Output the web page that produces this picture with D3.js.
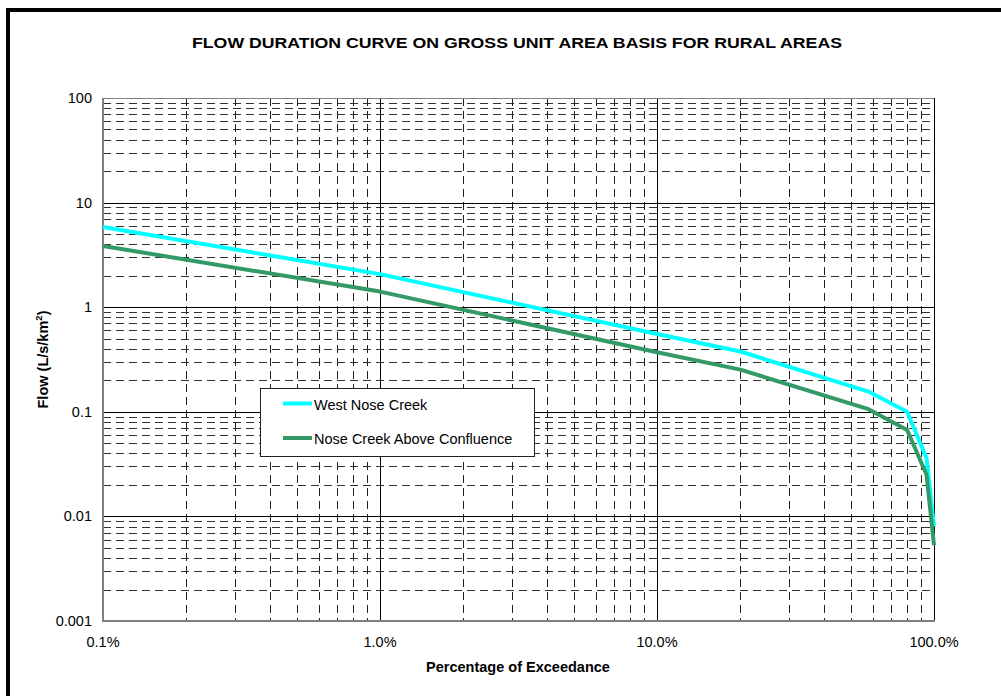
<!DOCTYPE html>
<html>
<head>
<meta charset="utf-8">
<script src="https://cdn.jsdelivr.net/npm/d3@7"></script>
<style>
  html, body { margin: 0; padding: 0; background: #fff; }
  svg { display: block; }
  text { font-family: Arial, "Liberation Sans", sans-serif; }
</style>
</head>
<body>
<svg id="chart" width="1001" height="696"></svg>
<script>
// ---- data ----
const percentExceedance = [0.1, 1, 10, 20, 58, 80, 94, 100];
const westNoseCreek      = [5.85, 2.07, 0.555, 0.377, 0.156, 0.100, 0.036, 0.0080];
const noseCreekAboveConf = [3.85, 1.41, 0.371, 0.253, 0.106, 0.067, 0.025, 0.0053];
const seriesNames = ["West Nose Creek", "Nose Creek Above Confluence"];
const seriesColors = ["#00FFFF", "#339966"];
const xTickValues = [0.1, 1, 10, 100];
const xTickLabels = ["0.1%", "1.0%", "10.0%", "100.0%"];
const yTickValues = [0.001, 0.01, 0.1, 1, 10, 100];
const yTickLabels = ["0.001", "0.01", "0.1", "1", "10", "100"];
const title = "FLOW DURATION CURVE ON GROSS UNIT AREA BASIS FOR RURAL AREAS";
const xTitle = "Percentage of Exceedance";

// ---- layout ----
const svg = d3.select("#chart");
const L = 103, R = 934, T = 98, B = 621;
const x = d3.scaleLog().domain([0.1, 100]).range([L, R]);
const y = d3.scaleLog().domain([0.001, 100]).range([B, T]);

// outer border (cut off at right/bottom)
svg.append("rect").attr("x", 8).attr("y", 10).attr("width", 1100).attr("height", 800)
  .attr("fill", "none").attr("stroke", "#000").attr("stroke-width", 4);

// title
svg.append("text").attr("x", 517).attr("y", 48).attr("text-anchor", "middle")
  .attr("font-size", 15).attr("font-weight", "bold")
  .attr("textLength", 650).attr("lengthAdjust", "spacingAndGlyphs").text(title);

const g = svg.append("g");

// minor grid values
function minors(lo, hi) {
  const out = [];
  for (let e = Math.log10(lo); e < Math.log10(hi) - 1e-9; e++) {
    for (let m = 2; m <= 9; m++) out.push(m * Math.pow(10, e));
  }
  return out;
}
const xMinor = minors(0.1, 100);
const yMinor = minors(0.001, 100);

// horizontal minor dashed
g.selectAll(".hminor").data(yMinor).enter().append("line")
  .attr("x1", L).attr("x2", R)
  .attr("y1", d => Math.round(y(d)) + 0.5).attr("y2", d => Math.round(y(d)) + 0.5)
  .attr("stroke", "#333").attr("stroke-width", 1).attr("stroke-dasharray", "8,5");
// vertical minor dashed
g.selectAll(".vminor").data(xMinor).enter().append("line")
  .attr("y1", T).attr("y2", B)
  .attr("x1", d => Math.round(x(d)) + 0.5).attr("x2", d => Math.round(x(d)) + 0.5)
  .attr("stroke", "#222").attr("stroke-width", 1).attr("stroke-dasharray", "8,5");

// major grid
g.selectAll(".hmajor").data(yTickValues).enter().append("line")
  .attr("x1", L).attr("x2", R)
  .attr("y1", d => Math.round(y(d)) + 0.5).attr("y2", d => Math.round(y(d)) + 0.5)
  .attr("stroke", "#000").attr("stroke-width", 1);
g.selectAll(".vmajor").data(xTickValues).enter().append("line")
  .attr("y1", T).attr("y2", B)
  .attr("x1", d => Math.round(x(d)) + 0.5).attr("x2", d => Math.round(x(d)) + 0.5)
  .attr("stroke", "#000").attr("stroke-width", 1);

// frame: gray top/left/bottom
g.append("line").attr("x1", L).attr("x2", R).attr("y1", T + 0.5).attr("y2", T + 0.5)
  .attr("stroke", "#808080").attr("stroke-width", 1);
g.append("line").attr("x1", L).attr("x2", L).attr("y1", T).attr("y2", B + 1)
  .attr("stroke", "#808080").attr("stroke-width", 2);
g.append("line").attr("x1", L).attr("x2", R + 1).attr("y1", B).attr("y2", B)
  .attr("stroke", "#808080").attr("stroke-width", 2);

// series lines
const series = [westNoseCreek, noseCreekAboveConf];
const lineGen = d3.line().x(d => x(d[0])).y(d => y(d[1]));
series.forEach((vals, i) => {
  const pts = percentExceedance.map((p, j) => [p, vals[j]]);
  g.append("path").attr("d", lineGen(pts)).attr("fill", "none")
    .attr("stroke", seriesColors[i]).attr("stroke-width", 4)
    .attr("stroke-linejoin", "round");
});

// y tick labels
svg.selectAll(".ylab").data(yTickValues).enter().append("text")
  .attr("x", 92).attr("y", d => y(d) + 5).attr("text-anchor", "end")
  .attr("font-size", 14.5).text((d, i) => yTickLabels[i]);
// x tick labels
svg.selectAll(".xlab").data(xTickValues).enter().append("text")
  .attr("x", d => x(d)).attr("y", 646.5).attr("text-anchor", "middle")
  .attr("font-size", 14.5).text((d, i) => xTickLabels[i]);

// axis titles
svg.append("text").attr("x", 518).attr("y", 671.5).attr("text-anchor", "middle")
  .attr("font-size", 14.5).attr("font-weight", "bold").text(xTitle);
const yt = svg.append("text").attr("transform", `translate(47.5,${(T + B) / 2}) rotate(-90)`)
  .attr("text-anchor", "middle").attr("font-size", 14.5).attr("font-weight", "bold");
yt.append("tspan").text("Flow (L/s/km");
yt.append("tspan").attr("font-size", 9.5).attr("dy", -6).text("2");
yt.append("tspan").attr("dy", 6).text(")");

// legend
const lg = svg.append("g");
lg.append("rect").attr("x", 260.5).attr("y", 388.5).attr("width", 274).attr("height", 68)
  .attr("fill", "#fff").attr("stroke", "#222").attr("stroke-width", 1);
seriesNames.forEach((name, i) => {
  const ly = 403.5 + i * 34.5;
  lg.append("line").attr("x1", 283).attr("x2", 312).attr("y1", ly).attr("y2", ly)
    .attr("stroke", seriesColors[i]).attr("stroke-width", 4);
  lg.append("text").attr("x", 314).attr("y", ly + 6).attr("font-size", 14.5).text(name);
});
</script>
</body>
</html>
